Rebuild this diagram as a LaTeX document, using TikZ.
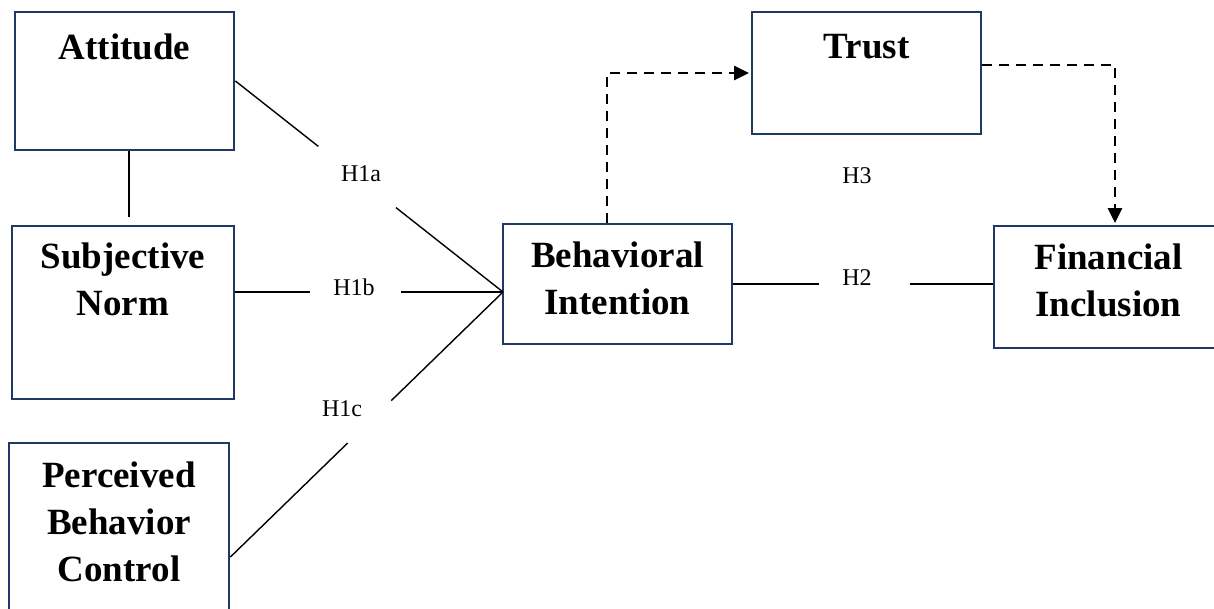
\documentclass[tikz,border=0pt]{standalone}
\usepackage{fontspec}
\setmainfont{Liberation Serif}
\usetikzlibrary{calc,arrows.meta}
\definecolor{boxnavy}{RGB}{31,56,100}
\begin{document}
\begin{tikzpicture}[x=1pt,y=-1pt,
  box/.style={draw=boxnavy, line width=2.8pt, fill=white, inner sep=0pt},
  title/.style={anchor=north, align=center, inner sep=0pt,
    font=\fontsize{37}{47}\selectfont\bfseries},
  hyp/.style={inner sep=0pt, font=\fontsize{24}{28}\selectfont},
  link/.style={line width=1.4pt, black},
  dashlink/.style={line width=2.9pt, dash pattern=on 10pt off 7pt,
    shorten >=1.5pt, -{Triangle[length=15pt,width=14pt]}}
]
\useasboundingbox (0,0) rectangle (1214,608);

% construct boxes
\node[box, minimum width=219pt, minimum height=138pt] (att)   at (124.5,81)   {};
\node[box, minimum width=222pt, minimum height=173pt] (sn)    at (123,312.5)  {};
\node[box, minimum width=220pt, minimum height=228pt] (pbc)   at (119,557)    {};
\node[box, minimum width=229pt, minimum height=120pt] (bi)    at (617.5,284)  {};
\node[box, minimum width=229pt, minimum height=122pt] (trust) at (866.5,73)   {};
\node[box, minimum width=229pt, minimum height=122pt] (fi)    at (1108.5,287) {};

% box titles
\node[title] (attT)   at (124.5,34)  {Attitude};
\node[title] (snT)    at (123,243)   {Subjective\\Norm};
\node[title] (pbcT)   at (119,462)   {Perceived\\Behavior\\Control};
\node[title] (biT)    at (617.5,242) {Behavioral\\Intention};
\node[title] (trustT) at (866.5,34)  {Trust};
\node[title] (fiT)    at (1108.5,244){Financial\\Inclusion};

% hypothesis labels
\node[hyp] (h1a) at (361,174) {H1a};
\node[hyp] (h1b) at (354,287) {H1b};
\node[hyp] (h1c) at (342,409) {H1c};
\node[hyp] (h2)  at (857,278) {H2};
\node[hyp] (h3)  at (857,176) {H3};

% paths into behavioral intention
\coordinate (hub) at (503,292);
\draw[link] (att.east) -- ($(att.east)!0.31!(hub)$);
\draw[link] ($(att.east)!0.6!(hub)$) -- (hub);
\draw[link] (sn.east |- hub) -- ($(sn.east |- hub)!0.28!(hub)$);
\draw[link] ($(sn.east |- hub)!0.62!(hub)$) -- (hub);
\draw[link] (pbc.east) -- ($(pbc.east)!0.43!(hub)$);
\draw[link] ($(pbc.east)!0.59!(hub)$) -- (hub);

% attitude to subjective norm
\coordinate (attfoot) at ([xshift=4.5pt]att.south);
\draw[link, shorten >=8pt] (attfoot) -- (attfoot |- sn.north);

% behavioral intention to financial inclusion
\coordinate (fiin) at (fi.west |- bi.east);
\draw[link] (bi.east) -- ($(bi.east)!0.33!(fiin)$);
\draw[link] ($(bi.east)!0.68!(fiin)$) -- (fiin);

% moderation through trust
\draw[dashlink] ([xshift=-10.5pt]bi.north) |- (trust.west);
\draw[dashlink] ([yshift=8pt]trust.east) -| ([xshift=6.5pt]fi.north);
\end{tikzpicture}
\end{document}
